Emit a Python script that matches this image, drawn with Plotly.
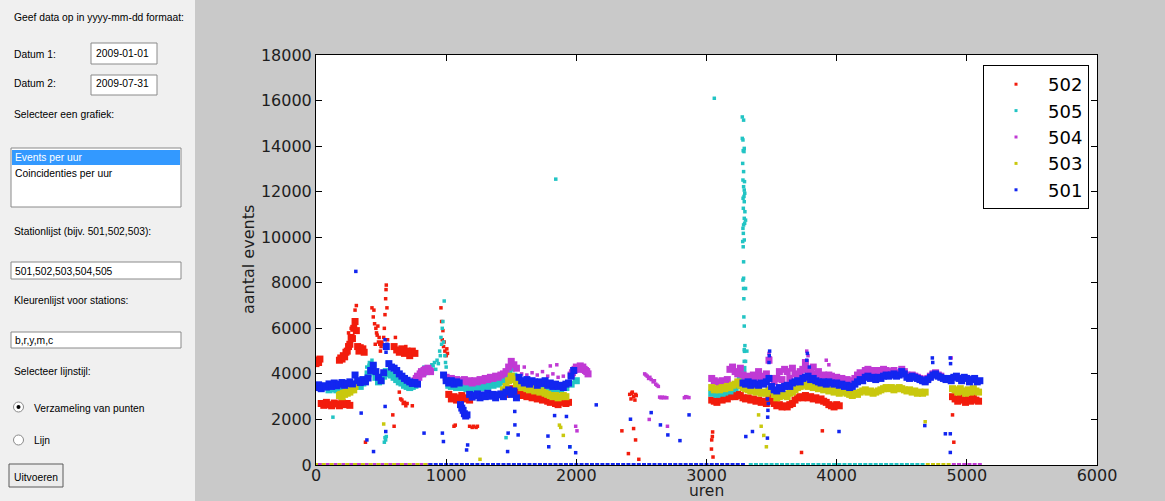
import plotly.graph_objects as go

# ---------------- data (hours, events per hour) ----------------
# Each segment: start hour, step (hours), values
# Station 501 (blue)
b501_seg1 = (0, 20, [3400, 3520, 3350, 3480, 3420, 3560, 3450, 3600, 3480, 3550, 3620, 3500, 3580, 3650,
                     3560, 3950, 3700, 3620, 3750, 3650, 3820, 4150, 4380, 4100, 3850, 3700, 4050, 5200,
                     4450, 4300, 4250, 4150, 4000, 3900, 3800, 3720, 3650, 3580, 3620, 3550])
b501_seg2 = (980, 20, [3950, 3700, 3600, 3700, 3550, 3650, 3600])
b501_seg3 = (1110, 10, [2650, 2500, 2400, 2250, 2150, 2200])
b501_seg4 = (1180, 20, [3100, 2980, 3050, 3120, 2950, 3080, 3000, 3150, 3020, 3100, 2950, 3080, 3120, 3000,
                        3200, 3300, 3100, 3250, 2950])
b501_seg5 = (1560, 20, [3850, 3700, 3600, 3750, 3550, 3700, 3650, 3500, 3650, 3580, 3700, 3500, 3600, 3450,
                        3550, 3450, 3500, 3400, 3550, 3600, 3900, 4150])
b501_seg6 = (3280, 20, [3600, 3550, 3650, 3500, 3600, 3550, 3500, 3600, 3550, 3650, 3800, 3450, 3300, 3250,
                        3400, 3350, 3450, 3500, 3450, 3600, 3650, 3700, 3650, 3800, 3850, 3900, 3750, 3800,
                        3700, 3650, 3600, 3650, 3550, 3650, 3600, 3550, 3600, 3500, 3550, 3450, 3500, 3400,
                        3450, 3550, 3650, 3750, 3700, 3850, 3900, 3800, 3850, 3750, 3850, 3800, 3900, 3950,
                        3900, 3950, 4000, 3900, 3950, 4100, 4000, 3850, 3800, 3900, 3850, 3800, 3750, 3700,
                        3650, 3750, 3850, 3950, 4000, 3900, 3850, 3800, 3750, 3800, 3700, 3850, 3900, 3800,
                        3700, 3850, 3800, 3650, 3750, 3800, 3650, 3700])
b501_extra_x = [306, 530, 538, 545, 347, 391, 442, 531, 536, 830, 971, 979, 1165, 1157, 1472, 1528, 1553,
                1788, 1924, 1950, 1995, 1476, 1527, 1833, 1782, 2153, 2416, 2646, 2703, 2796, 2866, 2575,
                3302, 3353, 3468, 3470, 3472, 3475, 3468, 4018, 4677, 4835, 4873, 4873, 3480, 3482, 3485,
                3770, 3775, 3790, 4735, 4738, 4872, 4875]
b501_extra_y = [8500, 5500, 4950, 5300, 2280, 1100, 590, 2570, 1470, 1400, 1400, 1030, 880, 660, 590, 1760,
                1320, 800, 2130, 800, 540, 1400, 2350, 2170, 1270, 2640, 2010, 1760, 1320, 1070, 2200, 2300,
                1250, 1470, 1180, 2100, 2400, 2700, 2900, 1470, 1730, 1370, 1370, 550, 4500, 4800, 5000,
                4600, 4900, 4300, 4700, 4500, 4700, 4450]
b501_zero_hours = list(range(880, 3301, 40))

# Station 502 (red)
r502_seg1 = (0, 10, [4450, 4600, 4500, 4650])
r502_seg2 = (40, 20, [2700, 2620, 2750, 2650, 2600, 2720, 2680, 2600, 2750, 2650, 2700, 2620])
r502_seg3 = (180, 10, [4600, 4700, 4650, 4800, 4750, 4950, 5000, 5200, 5300, 5600, 5550, 6000, 6300, 5900,
                       5200, 5000, 5150, 5050, 5100, 4950])
r502_seg4 = (600, 20, [5200, 5050, 4950, 5100, 4900, 5000, 4800, 5000, 4900])
r502_seg5 = (1020, 20, [3100, 2900, 3000, 2850, 2950, 3050, 2900, 2950, 2850])
r502_seg6 = (1460, 20, [3100, 3200, 3350, 3250, 3150, 3200, 3050, 3100, 3000, 3050, 2950, 3000, 2900, 2950,
                        2850, 2900, 2800, 2750, 2800, 2700, 2650, 2750, 2800, 2700, 2750])
r502_seg7 = (3040, 20, [2850, 2800, 2750, 2900, 2850, 2950, 2900, 3000, 3050, 3000, 3100, 3050, 2950, 2900,
                        2950, 2850, 2900, 2800, 2850, 2750, 2800, 2700, 3100, 2800, 2700, 2600, 2650, 2550,
                        2600, 2550, 2650, 2700, 2850, 2950, 3000, 2950, 3050, 2950, 3000, 2900, 2950, 2850,
                        2900, 2800, 2750, 2650, 2600, 2550, 2650, 2600])
r502_seg8 = (4890, 20, [3000, 2900, 2800, 2950, 2850, 2750, 2900, 2800, 2950, 2850, 2800])
r502_extra_x = [310, 300, 290, 250, 270, 430, 440, 445, 450, 455, 460, 465, 470, 475, 480, 485, 490, 495,
                500, 505, 510, 520, 525, 530, 535, 538, 540, 545, 550, 610, 690, 640, 650, 660, 670, 680,
                690, 700, 960, 965, 970, 975, 980, 985, 990, 1000, 1005, 1010, 1060, 1070, 1180, 1200, 1210,
                1230, 1240, 2410, 2420, 2425, 2430, 2440, 2450, 2455, 2460, 3047, 3040, 3045, 3038, 3050,
                2440, 2455, 2350, 2400, 2480, 380, 590, 600, 740, 3730, 3890, 4890, 4900]
r502_extra_y = [7000, 6800, 6200, 5800, 6000, 6900, 6500, 6800, 6200, 5300, 6000, 5800, 5700, 6100, 5400,
                5600, 5300, 5000, 5200, 5400, 5300, 5600, 6000, 6600, 7300, 7700, 7900, 6900, 5500, 5600,
                5200, 3200, 2900, 2850, 2700, 2750, 2600, 2700, 6900, 6300, 5500, 5900, 5200, 5400, 5000,
                4800, 5100, 4900, 1700, 1750, 1700, 1650, 1700, 1650, 1700, 3100, 2900, 3150, 3200, 3000,
                2850, 3100, 3050, 1450, 1100, 1250, 700, 350, 1600, 1100, 1500, 500, 250, 1000, 2200, 1700,
                2600, 550, 1500, 2200, 1000]

# Station 503 (yellow)
y503_seg1 = (180, 10, [3050, 3100, 3000, 3150, 3100, 3200, 3150, 3250, 3200, 3300, 3350, 3300, 3450])
y503_seg2 = (1440, 20, [3300, 3450, 3700, 3900, 3750, 3550, 3500, 3400, 3450, 3350, 3300, 3350, 3250, 3300,
                        3200, 3250, 3150, 3100, 3050, 3000, 3050, 2950, 3000, 3050, 3000])
y503_seg3 = (3040, 20, [3400, 3300, 3350, 3300, 3400, 3350, 3450, 3400, 3500, 3550, 3650, 3500, 3400, 3350,
                        3300, 3250, 3300, 3200, 3250, 3150, 3200, 3150, 3300, 3250, 3100, 2950, 3000, 3050,
                        3100, 3000, 3150, 3200, 3300, 3400, 3450, 3500, 3550, 3450, 3500, 3400, 3450, 3350,
                        3400, 3300, 3350, 3250, 3300, 3200, 3250, 3150, 3200, 3250, 3150, 3100, 3050, 3150,
                        3100, 3200, 3250, 3300, 3200, 3250, 3150, 3200, 3250, 3300, 3350, 3400, 3350, 3400,
                        3300, 3350, 3400, 3350, 3300, 3250, 3300, 3200, 3250, 3150, 3200, 3150, 3200])
y503_seg4 = (4890, 20, [3350, 3300, 3200, 3350, 3250, 3150, 3300, 3200, 3350, 3250, 3200])
y503_extra_x = [1870, 1880, 1900, 3420, 3440, 3400, 3460, 4680, 520, 1260]
y503_extra_y = [1750, 1650, 1300, 1700, 1300, 2200, 800, 1900, 1800, 250]
y503_zero_hours = list(range(0, 861, 60)) + list(range(4700, 4881, 40))

# Station 504 (magenta)
m504_seg1 = (760, 10, [3700, 3800, 3900, 3850, 4000, 4100, 4000, 4150, 4200, 4100, 4250, 4150, 4100])
m504_seg2 = (1000, 20, [3850, 3750, 3800, 3700, 3750, 3650, 3700, 3750, 3650, 3700, 3600, 3700, 3650, 3750,
                        3700, 3800, 3750, 3850, 3800, 3900, 3850, 3950, 4000, 4100, 4300, 4550, 4400, 4250])
m504_seg3 = (1960, 10, [3950, 4050, 4150, 4200, 4300, 4250, 4200, 4350, 4250, 4300, 4200, 4150, 4100, 4000])
m504_seg4 = (3040, 20, [3800, 3700, 3650, 3600, 3700, 3600, 3750, 4200, 4300, 4100, 4000, 4250, 3950])
m504_seg5 = (3300, 20, [3850, 3900, 3800, 3950, 3850, 4100, 3900, 3850, 4000, 4600, 3800, 3650, 3800, 4100,
                        3750, 4200, 4100, 3800, 4250, 4000, 3950, 4100, 4200, 4500, 4200, 4100, 4300, 4000,
                        4100, 3900, 3950, 3850, 3950, 3900, 3800, 3850, 3750, 3800, 3700, 3750, 3650, 3700,
                        3800, 3950, 4050, 4000, 4150, 4200, 4100, 4150, 4050, 4150, 4100, 4200, 4150, 4100,
                        4050, 4150, 4000, 4050, 4200, 4100, 3950, 3900, 3950, 3900, 3850, 3800, 3750, 3700,
                        3800, 3900, 4000, 4050, 3950, 3900])
m504_extra_x = [1580, 1620, 1660, 1700, 1740, 1780, 1820, 1860, 1900, 1600, 1800, 1850,
                2525, 2535, 2545, 2555, 2565, 2575, 2590, 2600, 2610, 2620, 2630,
                2640, 2650, 2660, 2670, 2680, 2695, 2830, 2840, 2850, 2865,
                3480, 3490, 3770, 3780, 3920, 3940, 4880, 1995, 2005, 2560, 2700]
m504_extra_y = [4000, 3950, 4050, 3950, 4100, 3900, 4000, 3850, 3900, 4300, 4350, 4400,
                4000, 3950, 3900, 3800, 3850, 3750, 3650, 3700, 3550, 3500, 3450,
                2980, 2950, 2980, 2950, 2970, 2950, 2950, 3000, 2980, 2960,
                4900, 4700, 5000, 4800, 4600, 4400, 4700, 1700, 1500, 2000, 1700]
m504_zero_hours = list(range(30, 871, 60)) + list(range(4900, 5101, 40))

# Station 505 (cyan)
c505_seg1 = (100, 20, [3300, 3350, 3400, 3300, 3350, 3400, 3350, 3400, 3450, 3400, 3500, 3550, 3450, 3600,
                       3700, 4000, 4300, 4100, 3850, 3650, 3700, 3900, 4100, 4000, 3950, 3850, 3750, 3650,
                       3600, 3500, 3450, 3400, 3450, 3500])
c505_seg2 = (1020, 20, [3500, 3450, 3500, 3400, 3450, 3400, 3450, 3350, 3400, 3350, 3450, 3400, 3450, 3400,
                        3500, 3450, 3550, 3500, 3600, 3550, 3650, 3700, 3800, 4000, 4250, 3900, 3700])
c505_seg3 = (1560, 40, [3500, 3450, 3400, 3450, 3350, 3400, 3300, 3350, 3300, 3400, 3550, 3700])
c505_seg4 = (3040, 20, [3150, 3200, 3100, 3250, 3150, 3200, 3300, 3250, 3350, 3400, 3500, 3800, 4200])
c505_extra_x = [390, 410, 430, 450, 470, 820, 830, 840, 850, 860, 870, 880, 890, 900, 910, 920, 930, 940,
                950, 955, 960, 965, 970, 975, 980, 985, 990, 995, 1000, 525, 530, 535, 540, 1842,
                3060, 3275, 3285, 3275, 3280, 3290, 3282, 3288, 3278, 3285, 3280, 3292, 3285, 3290, 3294,
                3288, 3281, 3290, 3283, 3295, 3290, 3300, 3293, 3285, 3280, 3283, 3290, 3278, 3282, 3285,
                3280, 3285, 3285, 3287, 3300, 3287, 3290, 3295, 3290, 3292, 3290, 3287, 3300, 3310,
                130, 1460, 1950]
c505_extra_y = [4300, 4500, 4600, 4400, 4000, 4100, 4300, 4000, 4200, 4150, 4300, 4250, 4400, 4350, 4500,
                4200, 4600, 4450, 5000, 4800, 5600, 5300, 6000, 6300, 5400, 7200, 4800, 4500, 4300, 1000,
                1200, 1100, 1250, 12550,
                16100, 15280, 15140, 14340, 14270, 13900, 13800, 13760, 13240, 12880, 12510, 12440, 12220,
                12070, 11930, 11790, 11710, 11560, 11270, 11120, 10830, 10750, 10610, 10540, 10390, 10170,
                9880, 9810, 9580, 8920, 8120, 8200, 7750, 7300, 7750, 6500, 6100, 5240, 5060, 4990, 4550,
                4200, 4550, 5000,
                2100, 1200, 800]
c505_zero_hours = list(range(3340, 4681, 40))

station_names = ["502", "505", "504", "503", "501"]
station_colors = ["#f21c0c", "#22c4c4", "#c03ad4", "#c9c80e", "#1226f0"]

BAND_SIZE, DOT_SIZE, ZERO_SIZE = 7, 3.5, 4


def collect(segments, extra_x=(), extra_y=(), zero_hours=()):
    xs, ys, ss = [], [], []
    for start, step, vals in segments:
        xs += [start + step * i for i in range(len(vals))]
        ys += list(vals)
        ss += [BAND_SIZE] * len(vals)
    xs += list(extra_x)
    ys += list(extra_y)
    ss += [DOT_SIZE] * len(extra_x)
    xs += list(zero_hours)
    ys += [0 for _ in zero_hours]
    ss += [ZERO_SIZE] * len(zero_hours)
    return xs, ys, ss


series = {
    "502": collect([r502_seg1, r502_seg2, r502_seg3, r502_seg4, r502_seg5, r502_seg6, r502_seg7, r502_seg8],
                   r502_extra_x, r502_extra_y),
    "505": collect([c505_seg1, c505_seg2, c505_seg3, c505_seg4], c505_extra_x, c505_extra_y, c505_zero_hours),
    "504": collect([m504_seg1, m504_seg2, m504_seg3, m504_seg4, m504_seg5], m504_extra_x, m504_extra_y,
                   m504_zero_hours),
    "503": collect([y503_seg1, y503_seg2, y503_seg3, y503_seg4], y503_extra_x, y503_extra_y, y503_zero_hours),
    "501": collect([b501_seg1, b501_seg2, b501_seg3, b501_seg4, b501_seg5, b501_seg6], b501_extra_x,
                   b501_extra_y, b501_zero_hours),
}

x_ticks = [0, 1000, 2000, 3000, 4000, 5000, 6000]
y_ticks = [0, 2000, 4000, 6000, 8000, 10000, 12000, 14000, 16000, 18000]

# ---------------- figure ----------------
W, H = 1165, 501
PL, PR, PT, PB = 316, 1097, 55, 465


def fx(px):
    return (px - PL) / (PR - PL)


def fy(py):
    return (PB - py) / (PB - PT)


fig = go.Figure()
for name, color in zip(station_names, station_colors):
    xs, ys, ss = series[name]
    fig.add_trace(go.Scatter(x=xs, y=ys, mode="markers", name=name, legendgroup=name, showlegend=False,
                             marker=dict(color=color, size=ss, opacity=1, symbol="square",
                                         line=dict(width=0))))
# legend entries (tiny dots, as in the original legend)
for name, color in zip(station_names, station_colors):
    fig.add_trace(go.Scatter(x=[None], y=[None], mode="markers", name=name, legendgroup=name,
                             marker=dict(color=color, size=3, symbol="square", line=dict(width=0))))

axis_font = dict(family="DejaVu Sans", size=16, color="#1e1e1e")
fig.update_layout(
    width=W, height=H,
    margin=dict(l=PL, r=W - PR, t=PT, b=H - PB, pad=0),
    paper_bgcolor="#c9c9c9",
    plot_bgcolor="white",
    showlegend=True,
    legend=dict(x=fx(1089), xanchor="right", y=fy(65), yanchor="top", bgcolor="white",
                bordercolor="black", borderwidth=1, font=dict(family="DejaVu Sans", size=18, color="black"),
                itemwidth=54, tracegroupgap=0),
    xaxis=dict(range=[0, 6000], tickvals=x_ticks, ticktext=[str(v) for v in x_ticks], ticks="inside",
               ticklen=6, tickcolor="black", mirror="ticks", showline=True, linecolor="black", linewidth=1,
               showgrid=False, zeroline=False, tickfont=axis_font, ticklabelstandoff=-4),
    yaxis=dict(range=[0, 18000], tickvals=y_ticks, ticktext=[str(v) for v in y_ticks], ticks="inside",
               ticklen=6, tickcolor="black", mirror="ticks", showline=True, linecolor="black", linewidth=1,
               showgrid=False, zeroline=False, tickfont=axis_font),
)

shapes = []
annotations = []

# axis titles
annotations.append(dict(x=fx(248), y=fy(260), xref="paper", yref="paper", text="aantal events",
                        textangle=-90, showarrow=False, font=axis_font, xanchor="center", yanchor="middle"))
annotations.append(dict(x=fx(706), y=fy(501), xref="paper", yref="paper", text="uren", borderpad=0,
                        showarrow=False, font=dict(family="DejaVu Sans", size=15.5, color="#1e1e1e"),
                        xanchor="center", yanchor="bottom"))

# ---------------- left control panel ----------------
ui_font = dict(family="Liberation Sans", size=10.3, color="black")


def rect(x0, y0, x1, y1, fill, line="#8a8a8a", width=1):
    shapes.append(dict(type="rect", xref="paper", yref="paper", x0=fx(x0), x1=fx(x1), y0=fy(y1), y1=fy(y0),
                       fillcolor=fill, line=dict(color=line, width=width), layer="above"))


def label(px, py, text, color="black", anchor="left"):
    f = dict(ui_font)
    f["color"] = color
    annotations.append(dict(x=fx(px), y=fy(py), xref="paper", yref="paper", text=text, showarrow=False,
                            font=f, xanchor=anchor, yanchor="middle"))


# panel background
shapes.append(dict(type="rect", xref="paper", yref="paper", x0=fx(0), x1=fx(195), y0=fy(H + 2), y1=fy(-2),
                   fillcolor="#f0f0f0", line=dict(width=0), layer="above"))

label(12, 18, "Geef data op in yyyy-mm-dd formaat:")
label(12, 54, "Datum 1:")
rect(91, 43, 157, 64, "white")
label(94, 53, "2009-01-01")
label(12, 84, "Datum 2:")
rect(91, 75, 157, 95, "white")
label(94, 84, "2009-07-31")
label(12, 114, "Selecteer een grafiek:")
rect(11, 148, 181, 207, "white")
rect(12, 150, 180, 165, "#3399ff", line="#3399ff", width=0)
label(13, 157, "Events per uur", color="white")
label(13, 173, "Coincidenties per uur")
label(12, 231, "Stationlijst (bijv. 501,502,503):")
rect(11, 262, 181, 279, "white")
label(13, 271, "501,502,503,504,505")
label(12, 300, "Kleurenlijst voor stations:")
rect(11, 332, 181, 348, "white")
label(13, 340, "b,r,y,m,c")
label(12, 371, "Selecteer lijnstijl:")

for cy in (407, 440):
    shapes.append(dict(type="circle", xref="paper", yref="paper", x0=fx(13.5), x1=fx(23.5), y0=fy(cy + 5),
                       y1=fy(cy - 5), fillcolor="white", line=dict(color="#8a8a8a", width=1), layer="above"))
shapes.append(dict(type="circle", xref="paper", yref="paper", x0=fx(16.5), x1=fx(20.5), y0=fy(409),
                   y1=fy(405), fillcolor="black", line=dict(width=0), layer="above"))
label(32, 408, "Verzameling van punten")
label(32, 440, "Lijn")

rect(9, 464, 63, 487, "#ececec", line="#5a5a5a")
label(36, 477, "Uitvoeren", anchor="center")

fig.update_layout(shapes=shapes, annotations=annotations)

fig.write_html("out.html", config={"displayModeBar": False})
